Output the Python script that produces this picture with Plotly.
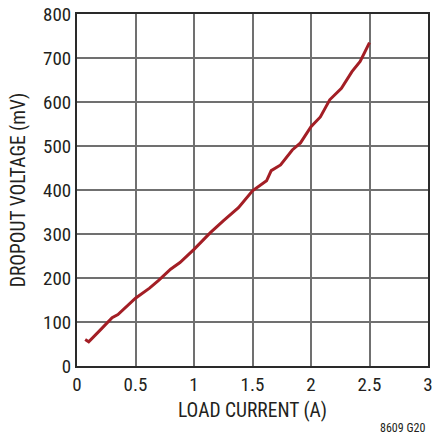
import plotly.graph_objects as go

load_current = [0.07, 0.10, 0.20, 0.30, 0.35, 0.41, 0.50, 0.62, 0.70, 0.80, 0.88, 1.00, 1.14,
                1.25, 1.38, 1.50, 1.62, 1.66, 1.74, 1.84, 1.91, 2.00, 2.08, 2.16, 2.26, 2.35,
                2.42, 2.50]
dropout_mv = [60, 55, 82, 110, 117, 131, 154, 177, 195, 220, 235, 265, 303,
              330, 360, 398, 421, 444, 457, 491, 507, 544, 566, 605, 631, 669,
              692, 735]

x_ticks = [0, 0.5, 1, 1.5, 2, 2.5, 3]
x_labels = ["0", "0.5", "1", "1.5", "2", "2.5", "3"]
y_ticks = [0, 100, 200, 300, 400, 500, 600, 700, 800]

FONT = "Liberation Sans Narrow, Roboto Condensed, Liberation Sans, Arial"

fig = go.Figure()
fig.add_trace(go.Scatter(x=load_current, y=dropout_mv, mode="lines",
                         line=dict(color="#A31E25", width=3), showlegend=False))

fig.update_layout(
    width=446, height=434,
    margin=dict(l=77, r=18, t=14, b=68, autoexpand=False),
    paper_bgcolor="white", plot_bgcolor="white",
    font=dict(family=FONT, size=19, color="#231F20"),
)
fig.update_xaxes(range=[0, 3], tickvals=x_ticks, ticktext=x_labels,
                 showgrid=True, gridcolor="#707070", gridwidth=1.5,
                 showline=True, linecolor="#2a2a2a", linewidth=2, mirror=True,
                 ticks="", zeroline=False, automargin=False,
                 title=dict(text="LOAD CURRENT (A)", font=dict(size=19.5), standoff=9))
fig.update_yaxes(range=[0, 800], tickvals=y_ticks,
                 showgrid=True, gridcolor="#707070", gridwidth=1.5,
                 showline=True, linecolor="#2a2a2a", linewidth=2, mirror=True,
                 ticks="", zeroline=False, automargin=False,
                 title=dict(text="DROPOUT VOLTAGE (mV)", font=dict(size=19.5), standoff=12))
fig.add_annotation(text="8609 G20", xref="paper", yref="paper", x=0.997, y=-0.15,
                   xanchor="right", yanchor="top", showarrow=False,
                   font=dict(size=12, family=FONT))

fig.write_html("out.html", config={"displayModeBar": False},
               post_script="document.body.style.margin='0';")
